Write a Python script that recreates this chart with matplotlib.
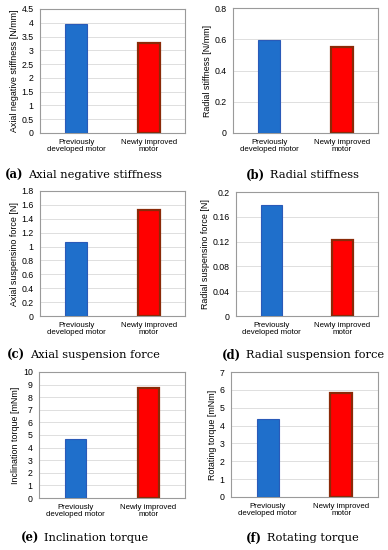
import matplotlib
matplotlib.use('Agg')
import matplotlib.pyplot as plt
import numpy as np

# data ------------------------------------------------------------
categories = ["Previously\ndeveloped motor", "Newly improved\nmotor"]

axial_stiffness = [3.95, 3.27]
radial_stiffness = [0.595, 0.55]
axial_force = [1.07, 1.53]
radial_force = [0.179, 0.122]
incl_torque = [4.7, 8.7]
rot_torque = [4.35, 5.85]

ylabels = ["Axial negative stiffness [N/mm]", "Radial stiffness [N/mm]",
           "Axial suspensino force [N]", "Radial suspensino force [N]",
           "Inclination torque [mNm]", "Rotating torque [mNm]"]
captions = [("a", "Axial negative stiffness"), ("b", "Radial stiffness"),
            ("c", "Axial suspension force"), ("d", "Radial suspension force"),
            ("e", "Inclination torque"), ("f", "Rotating torque")]
yticks = [np.arange(0, 4.51, 0.5), np.arange(0, 0.81, 0.2),
          np.arange(0, 1.81, 0.2), np.arange(0, 0.201, 0.04),
          np.arange(0, 10.1, 1), np.arange(0, 7.1, 1)]
series = [axial_stiffness, radial_stiffness, axial_force,
          radial_force, incl_torque, rot_torque]


def fmt(v):
    s = f"{v:.2f}".rstrip("0").rstrip(".")
    return s if s else "0"


# layout in pixels (left, top, right, bottom)
W, H = 388, 550
boxes = [(40, 9, 185, 133), (233, 8, 378, 133),
         (40, 191, 185, 316), (236, 192, 378, 316),
         (39, 372, 185, 498), (231, 372, 378, 497)]
cap_pos = [(5, 175), (246, 175), (7, 355), (222, 355), (21, 538), (246, 538)]

plt.rcParams['font.family'] = ['Liberation Sans', 'DejaVu Sans']
fig = plt.figure(figsize=(W / 100, H / 100), dpi=100)
renderer = fig.canvas.get_renderer()

blue, red = "#1f6fcb", "#ff0000"
for i in range(6):
    l, t, r, b = boxes[i]
    ax = fig.add_axes([l / W, 1 - b / H, (r - l) / W, (b - t) / H])
    ax.bar([0, 1], series[i], width=0.3, color=[blue, red],
           edgecolor=["#2a5ab8", "#8a2a08"], linewidth=[0.8, 1.6], zorder=3)
    ax.set_xlim(-0.5, 1.5)
    ax.set_ylim(yticks[i][0], yticks[i][-1])
    ax.set_yticks(yticks[i])
    ax.set_yticklabels([fmt(v) for v in yticks[i]])
    ax.set_xticks([0, 1])
    ax.set_xticklabels(categories, fontsize=5.7, linespacing=1.15)
    ax.tick_params(axis='y', labelsize=6.3, length=0, pad=4.5)
    ax.tick_params(axis='x', length=0, pad=4)
    ax.set_ylabel(ylabels[i], fontsize=6.4, labelpad=2)
    ax.grid(axis='y', color="#d9d9d9", linewidth=0.6, zorder=0)
    for s in ax.spines.values():
        s.set_color("#9a9a9a")
        s.set_linewidth(0.8)

    # caption: bold letter in brackets, then the plain title
    letter, text = captions[i]
    x0, y0 = cap_pos[i][0] / W, 1 - cap_pos[i][1] / H
    lab = fig.text(x0, y0, f"({letter})", family="DejaVu Serif",
                   fontweight="bold", fontsize=8.4, va="center")
    ext = lab.get_window_extent(renderer)
    fig.text(ext.x1 / W + 5 / W, y0, text, family="DejaVu Serif",
             fontsize=8.2, va="center")

fig.savefig("out.png", dpi=100)
